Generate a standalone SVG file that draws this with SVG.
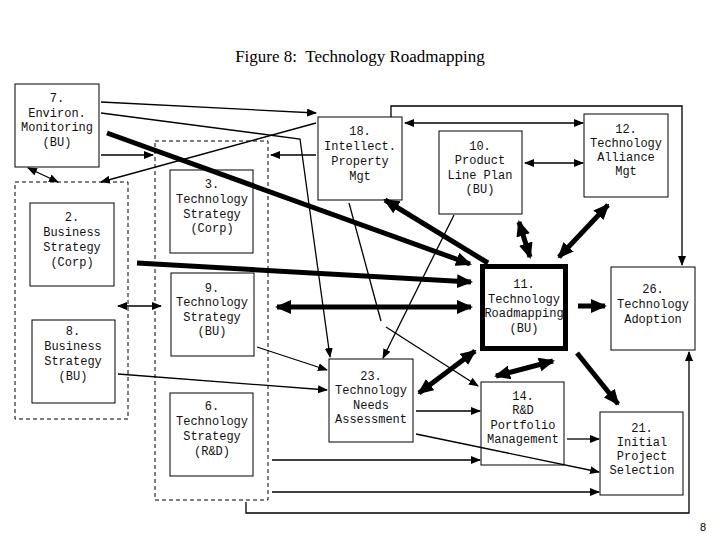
<svg xmlns="http://www.w3.org/2000/svg" width="720" height="540" viewBox="0 0 720 540">
<style>
.b{fill:#fff;stroke:#000;stroke-width:1}
.d{fill:none;stroke:#000;stroke-width:1;stroke-dasharray:4,3}
.t{font-family:"Liberation Mono",monospace;font-size:12px;text-anchor:middle;fill:#111}
.c{fill:none;stroke:#000;stroke-width:1.3}
.k{fill:none;stroke:#000;stroke-width:5}
.a{marker-end:url(#a)}
.aa{marker-end:url(#a);marker-start:url(#a)}
.ka{marker-end:url(#k)}
.kk{marker-end:url(#k);marker-start:url(#k)}
</style>
<defs>
<marker id="a" markerUnits="userSpaceOnUse" markerWidth="10" markerHeight="8" refX="9" refY="4" orient="auto-start-reverse"><path d="M0,0L10,4L0,8z"/></marker>
<marker id="k" markerUnits="userSpaceOnUse" markerWidth="16" markerHeight="14" refX="14" refY="7" orient="auto-start-reverse"><path d="M0,0L16,7L0,14z"/></marker>
</defs>
<rect width="720" height="540" fill="#fff"/>
<text x="360" y="62" font-family="Liberation Serif,serif" font-size="17" text-anchor="middle" xml:space="preserve" style="white-space:pre">Figure 8:  Technology Roadmapping</text>
<text x="703" y="531" font-family="Liberation Sans,sans-serif" font-size="11" text-anchor="middle">8</text>
<g id="groups">
<rect class="d" x="15" y="182" width="113" height="237"/>
<rect class="d" x="155" y="141" width="113" height="359"/>
</g>
<g id="n7"><rect class="b" x="15" y="84" width="84" height="83"/><text class="t" x="57" y="102">7.</text><text class="t" x="57" y="116.5">Environ.</text><text class="t" x="57" y="131">Monitoring</text><text class="t" x="57" y="145.5">(BU)</text></g>
<g id="n2"><rect class="b" x="30" y="203" width="84" height="83"/><text class="t" x="72" y="221">2.</text><text class="t" x="72" y="236">Business</text><text class="t" x="72" y="251">Strategy</text><text class="t" x="72" y="266">(Corp)</text></g>
<g id="n8"><rect class="b" x="32" y="320" width="83" height="83"/><text class="t" x="73" y="335">8.</text><text class="t" x="73" y="350">Business</text><text class="t" x="73" y="365">Strategy</text><text class="t" x="73" y="380">(BU)</text></g>
<g id="n3"><rect class="b" x="170" y="170" width="83" height="83"/><text class="t" x="212" y="188">3.</text><text class="t" x="212" y="203">Technology</text><text class="t" x="212" y="218">Strategy</text><text class="t" x="212" y="232">(Corp)</text></g>
<g id="n9"><rect class="b" x="171" y="273" width="83" height="83"/><text class="t" x="212" y="292">9.</text><text class="t" x="212" y="306">Technology</text><text class="t" x="212" y="321">Strategy</text><text class="t" x="212" y="335">(BU)</text></g>
<g id="n6"><rect class="b" x="170" y="393" width="83" height="83"/><text class="t" x="212" y="410">6.</text><text class="t" x="212" y="425">Technology</text><text class="t" x="212" y="440">Strategy</text><text class="t" x="212" y="455">(R&amp;D)</text></g>
<g id="n18"><rect class="b" x="318" y="117" width="84" height="83"/><text class="t" x="360" y="135">18.</text><text class="t" x="360" y="150">Intellect.</text><text class="t" x="360" y="165">Property</text><text class="t" x="360" y="180">Mgt</text></g>
<g id="n10"><rect class="b" x="439" y="131" width="83" height="83"/><text class="t" x="480" y="150">10.</text><text class="t" x="480" y="164">Product</text><text class="t" x="480" y="179">Line Plan</text><text class="t" x="480" y="193">(BU)</text></g>
<g id="n12"><rect class="b" x="584" y="114" width="84" height="83"/><text class="t" x="626" y="133">12.</text><text class="t" x="626" y="147">Technology</text><text class="t" x="626" y="161">Alliance</text><text class="t" x="626" y="175">Mgt</text></g>
<g id="n11"><rect x="482.5" y="266.5" width="83" height="82" fill="#fff" stroke="#000" stroke-width="5"/><text class="t" x="524" y="288">11.</text><text class="t" x="524" y="303">Technology</text><text class="t" x="524" y="317">Roadmapping</text><text class="t" x="524" y="332">(BU)</text></g>
<g id="n26"><rect class="b" x="611" y="267" width="84" height="83"/><text class="t" x="653" y="293">26.</text><text class="t" x="653" y="308">Technology</text><text class="t" x="653" y="323">Adoption</text></g>
<g id="n23"><rect class="b" x="329" y="359" width="84" height="83"/><text class="t" x="371" y="380">23.</text><text class="t" x="371" y="394">Technology</text><text class="t" x="371" y="409">Needs</text><text class="t" x="371" y="423">Assessment</text></g>
<g id="n14"><rect class="b" x="481" y="382" width="83" height="83"/><text class="t" x="523" y="400">14.</text><text class="t" x="523" y="414">R&amp;D</text><text class="t" x="523" y="429">Portfolio</text><text class="t" x="523" y="443">Management</text></g>
<g id="n21"><rect class="b" x="600" y="412" width="83" height="83"/><text class="t" x="642" y="432">21.</text><text class="t" x="642" y="446">Initial</text><text class="t" x="642" y="460">Project</text><text class="t" x="642" y="474">Selection</text></g>
<g id="connectors">
<line class="c a" x1="101" y1="102" x2="316" y2="113"/>
<polyline class="c a" points="101,113 300,139 330,357"/>
<line class="k ka" x1="107" y1="133" x2="470" y2="264"/>
<line class="c a" x1="101" y1="155" x2="153" y2="155"/>
<line class="c a" x1="316" y1="155" x2="271" y2="155"/>
<line class="c a" x1="316" y1="123" x2="101" y2="182"/>
<line class="c aa" x1="28" y1="168" x2="58" y2="182"/>
<line class="k ka" x1="137" y1="263" x2="471" y2="282"/>
<line class="k kk" x1="277" y1="307" x2="471" y2="307"/>
<line class="c aa" x1="118" y1="306" x2="161" y2="306"/>
<line class="c a" x1="257" y1="347" x2="327" y2="370"/>
<line class="c a" x1="118" y1="374" x2="327" y2="390"/>
<line class="c a" x1="272" y1="460" x2="480" y2="460"/>
<line class="c a" x1="272" y1="492" x2="599" y2="492"/>
<polyline class="c a" points="246,502 246,513 689,513 689,352"/>
<polyline class="c a" points="391,117 391,106 682,106 682,265"/>
<line class="c aa" x1="405" y1="123" x2="583" y2="123"/>
<line class="c aa" x1="525" y1="163" x2="583" y2="163"/>
<line class="k ka" x1="488" y1="263" x2="385" y2="200"/>
<line class="k kk" x1="519" y1="222" x2="530" y2="257"/>
<line class="k kk" x1="608" y1="205" x2="559" y2="257"/>
<line class="k ka" x1="578" y1="306" x2="605" y2="306"/>
<polyline class="c" points="349,203 381,321"/>
<line class="c a" x1="386" y1="327" x2="478" y2="386"/>
<line class="c a" x1="454" y1="215" x2="383" y2="358"/>
<line class="k kk" x1="475" y1="351" x2="419" y2="393"/>
<line class="k kk" x1="553" y1="361" x2="496" y2="376"/>
<line class="k ka" x1="577" y1="353" x2="618" y2="404"/>
<line class="c a" x1="416" y1="411" x2="480" y2="411"/>
<line class="c a" x1="567" y1="439" x2="599" y2="439"/>
<line class="c a" x1="416" y1="434" x2="599" y2="472"/>
</g>
</svg>
